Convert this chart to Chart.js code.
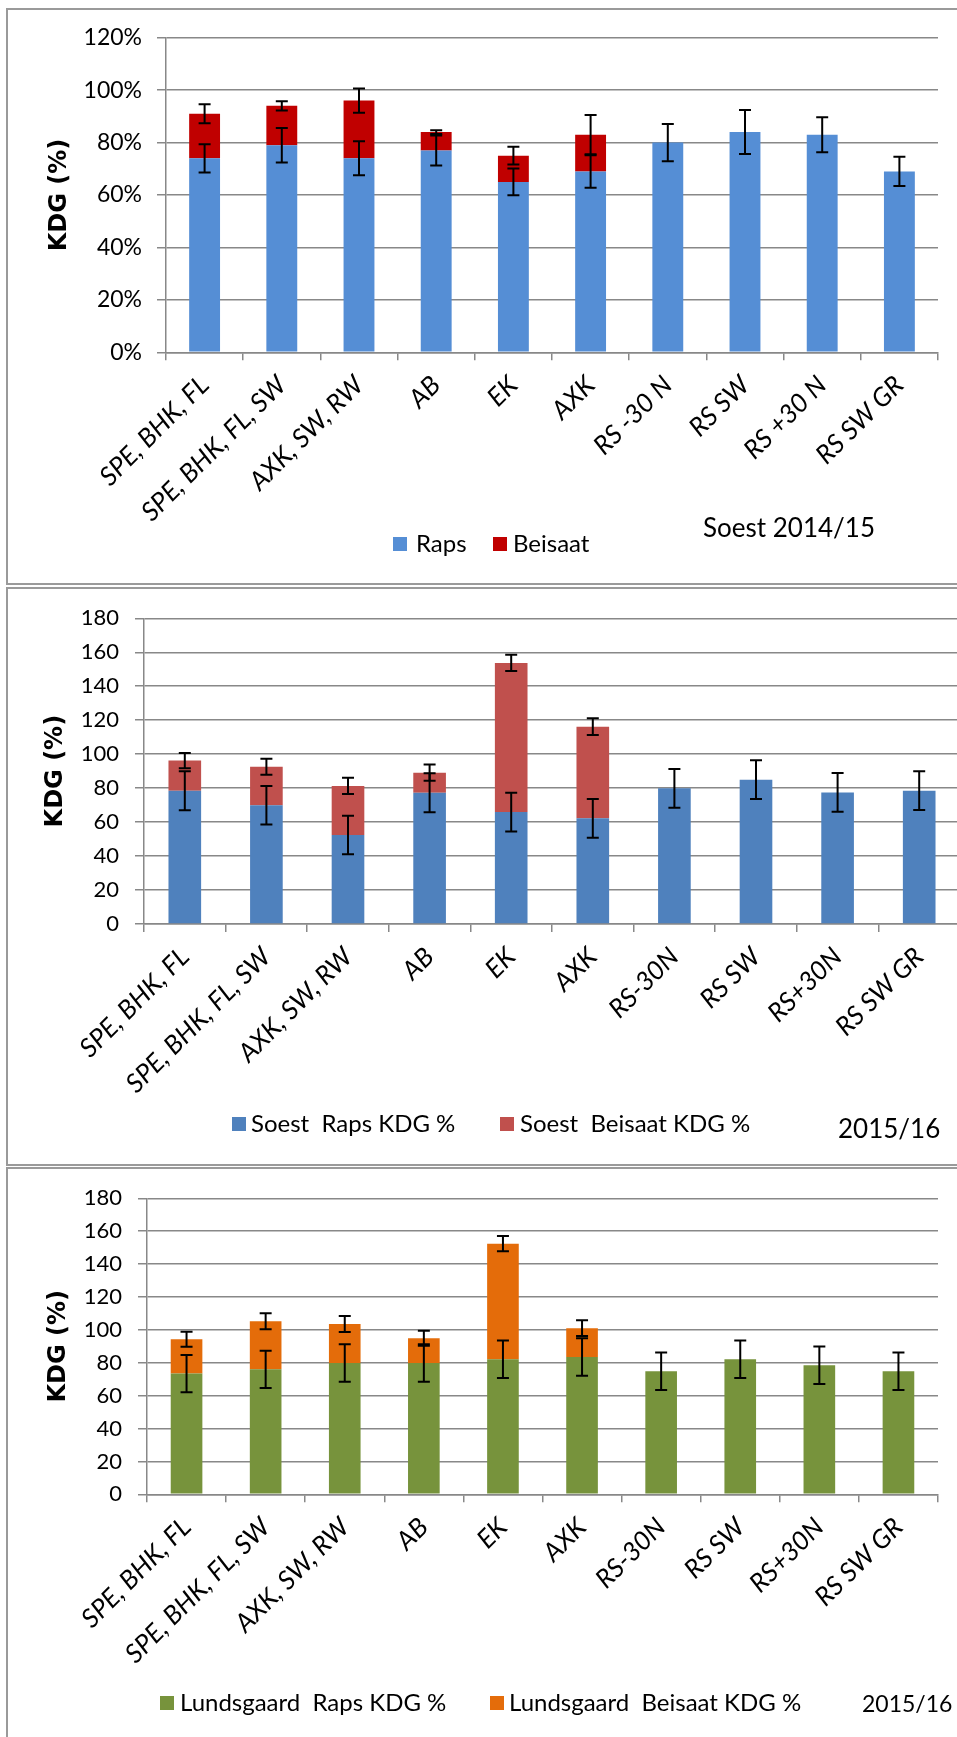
<!DOCTYPE html>
<html>
<head>
<meta charset="utf-8">
<script src="https://cdn.jsdelivr.net/npm/chart.js@4.4.1/dist/chart.umd.min.js"></script>
<style>
html, body { margin:0; padding:0; background:#fff; overflow:hidden; width:957px; height:1737px; }
.frame { position:absolute; box-sizing:border-box; border:2px solid #9a9a9a; border-right:none; left:6px; width:960px; }
canvas { position:absolute; left:0; }
</style>
</head>
<body>
<div class="frame" style="top:8px;height:577px"></div>
<div class="frame" style="top:587px;height:579px"></div>
<div class="frame" style="top:1167px;height:600px"></div>
<canvas id="c1" width="957" height="583" style="top:0"></canvas>
<canvas id="c2" width="975" height="577" style="top:588px"></canvas>
<canvas id="c3" width="957" height="569" style="top:1168px"></canvas>
<script>
// categories
var labels1 = ["SPE, BHK, FL", "SPE, BHK, FL, SW", "AXK, SW, RW", "AB", "EK", "AXK", "RS -30 N", "RS SW", "RS +30 N", "RS SW GR"];
var labels2 = ["SPE, BHK, FL", "SPE, BHK, FL, SW", "AXK, SW, RW", "AB", "EK", "AXK", "RS-30N", "RS SW", "RS+30N", "RS SW GR"];

// Soest 2014/15 (%)
var raps1 = [74, 79, 74, 77, 65, 69, 80, 84, 83, 69];
var beisaat1 = [17, 15, 22, 7, 10, 14, null, null, null, null];
var rapsErr1 = [5.4, 6.6, 6.5, 5.7, 5.1, 6.2, 7.1, 8.4, 6.7, 5.6];
var beisaatErr1 = [3.6, 1.8, 4.6, 0.7, 3.4, 7.5, null, null, null, null];

// Soest 2015/16
var raps2 = [78.5, 69.9, 52.4, 77.3, 65.9, 62.2, 79.9, 85.0, 77.5, 78.5];
var beisaat2 = [17.7, 22.7, 28.9, 11.8, 87.8, 54.0, null, null, null, null];
var rapsErr2 = [11.5, 11.3, 11.3, 11.5, 11.4, 11.4, 11.4, 11.4, 11.4, 11.4];
var beisaatErr2 = [4.5, 4.7, 4.8, 4.8, 4.8, 4.9, null, null, null, null];

// Lundsgaard 2015/16
var raps3 = [73.4, 76.0, 79.9, 79.9, 82.1, 83.5, 74.8, 82.1, 78.5, 74.8];
var beisaat3 = [20.9, 29.2, 23.7, 15.0, 70.3, 17.5, null, null, null, null];
var rapsErr3 = [11.3, 11.3, 11.4, 11.4, 11.4, 11.4, 11.4, 11.4, 11.4, 11.4];
var beisaatErr3 = [4.5, 4.9, 4.9, 4.5, 4.6, 4.8, null, null, null, null];

var GRID = '#888888';
Chart.defaults.font.family = 'Lato';

// error bars at the top of each stacked segment
var errorBars = {
  id: 'errorBars',
  afterDatasetsDraw: function(chart) {
    var ctx = chart.ctx, y = chart.scales.y;
    ctx.save();
    ctx.strokeStyle = '#000';
    ctx.lineWidth = 2;
    chart.data.datasets.forEach(function(ds, di) {
      var meta = chart.getDatasetMeta(di);
      ds.errors.forEach(function(e, i) {
        if (e == null || ds.data[i] == null) return;
        var top = 0;
        for (var k = 0; k <= di; k++) top += chart.data.datasets[k].data[i] || 0;
        var cx = meta.data[i].x;
        var y1 = y.getPixelForValue(top + e), y2 = y.getPixelForValue(top - e);
        ctx.beginPath();
        ctx.moveTo(cx, y1); ctx.lineTo(cx, y2);
        ctx.moveTo(cx - 6, y1); ctx.lineTo(cx + 6, y1);
        ctx.moveTo(cx - 6, y2); ctx.lineTo(cx + 6, y2);
        ctx.stroke();
      });
    });
    ctx.restore();
  }
};

var panelLegend = {
  id: 'panelLegend',
  afterDraw: function(chart, args, o) {
    var ctx = chart.ctx;
    ctx.save();
    ctx.textBaseline = 'middle';
    chart.data.datasets.forEach(function(ds, i) {
      ctx.fillStyle = ds.backgroundColor;
      ctx.fillRect(o.boxX[i], o.y - 7, 14, 14);
      ctx.fillStyle = '#000';
      ctx.font = '24px Lato';
      ctx.fillText(ds.label, o.textX[i], o.y);
    });
    ctx.font = o.noteSize + 'px Lato';
    ctx.fillText(o.note, o.noteX, o.noteY);
    ctx.restore();
  }
};

function buildChart(id, p) {
  return new Chart(document.getElementById(id), {
    type: 'bar',
    data: {
      labels: p.labels,
      datasets: [
        {label: p.names[0], data: p.raps, errors: p.rapsErr, backgroundColor: p.colors[0]},
        {label: p.names[1], data: p.beisaat, errors: p.beisaatErr, backgroundColor: p.colors[1]}
      ]
    },
    options: {
      responsive: false,
      animation: false,
      devicePixelRatio: 1,
      barPercentage: 0.4,
      categoryPercentage: 1,
      layout: {padding: {top: p.plotTop, right: p.padRight, left: 0, bottom: 0}},
      plugins: {legend: {display: false}, tooltip: {enabled: false}, panelLegend: p.legend},
      scales: {
        x: {
          stacked: true,
          grid: {offset: true, drawOnChartArea: false, tickLength: 8, color: GRID, lineWidth: 1.5},
          border: {color: GRID, width: 1.5},
          ticks: {autoSkip: false, maxRotation: 45, minRotation: 45, color: '#000', padding: 4,
                  font: {size: 26, style: 'italic', lineHeight: 1.8}},
          afterFit: function(s) { s.height = p.xHeight; }
        },
        y: {
          stacked: true, min: 0, max: p.yMax,
          ticks: {stepSize: 20, color: '#000', padding: p.tickPad, font: {size: p.tickSize}, callback: p.fmt},
          grid: {color: GRID, lineWidth: 1.5, tickLength: 9},
          border: {color: GRID, width: 1.5},
          title: {display: true, text: 'KDG (%)', color: '#000',
                  font: {family: 'DejaVu Sans', weight: 'bold', size: 24, lineHeight: 1.2},
                  padding: {top: p.titleX - 14.4, bottom: 0}},
          afterFit: function(s) { s.width = p.plotLeft; }
        }
      }
    },
    plugins: [errorBars, panelLegend]
  });
}

buildChart('c1', {
  labels: labels1, raps: raps1, beisaat: beisaat1, rapsErr: rapsErr1, beisaatErr: beisaatErr1,
  names: ['Raps', 'Beisaat'], colors: ['#558ED5', '#C00000'],
  yMax: 120, fmt: function(v) { return v + '%'; }, tickSize: 23, tickPad: 15,
  plotTop: 37.7, plotLeft: 166, padRight: 19, xHeight: 583 - 352.3, titleX: 60,
  legend: {boxX: [393, 493], textX: [416, 513], y: 544, note: 'Soest 2014/15', noteX: 703, noteY: 529, noteSize: 26}
});

buildChart('c2', {
  labels: labels2, raps: raps2, beisaat: beisaat2, rapsErr: rapsErr2, beisaatErr: beisaatErr2,
  names: ['Soest  Raps KDG %', 'Soest  Beisaat KDG %'], colors: ['#4F81BD', '#C0504D'],
  yMax: 180, fmt: function(v) { return v; }, tickSize: 22, tickPad: 16,
  plotTop: 30.3, plotLeft: 144, padRight: 15, xHeight: 577 - 336, titleX: 56,
  legend: {boxX: [232, 500], textX: [251, 520], y: 536, note: '2015/16', noteX: 838, noteY: 542, noteSize: 26}
});

buildChart('c3', {
  labels: labels2, raps: raps3, beisaat: beisaat3, rapsErr: rapsErr3, beisaatErr: beisaatErr3,
  names: ['Lundsgaard  Raps KDG %', 'Lundsgaard  Beisaat KDG %'], colors: ['#77933C', '#E46C0A'],
  yMax: 180, fmt: function(v) { return v; }, tickSize: 22, tickPad: 16,
  plotTop: 30.3, plotLeft: 147, padRight: 19, xHeight: 569 - 326.3, titleX: 59,
  legend: {boxX: [160, 490], textX: [180, 509], y: 535, note: '2015/16', noteX: 862, noteY: 537, noteSize: 23}
});
</script>
</body>
</html>
